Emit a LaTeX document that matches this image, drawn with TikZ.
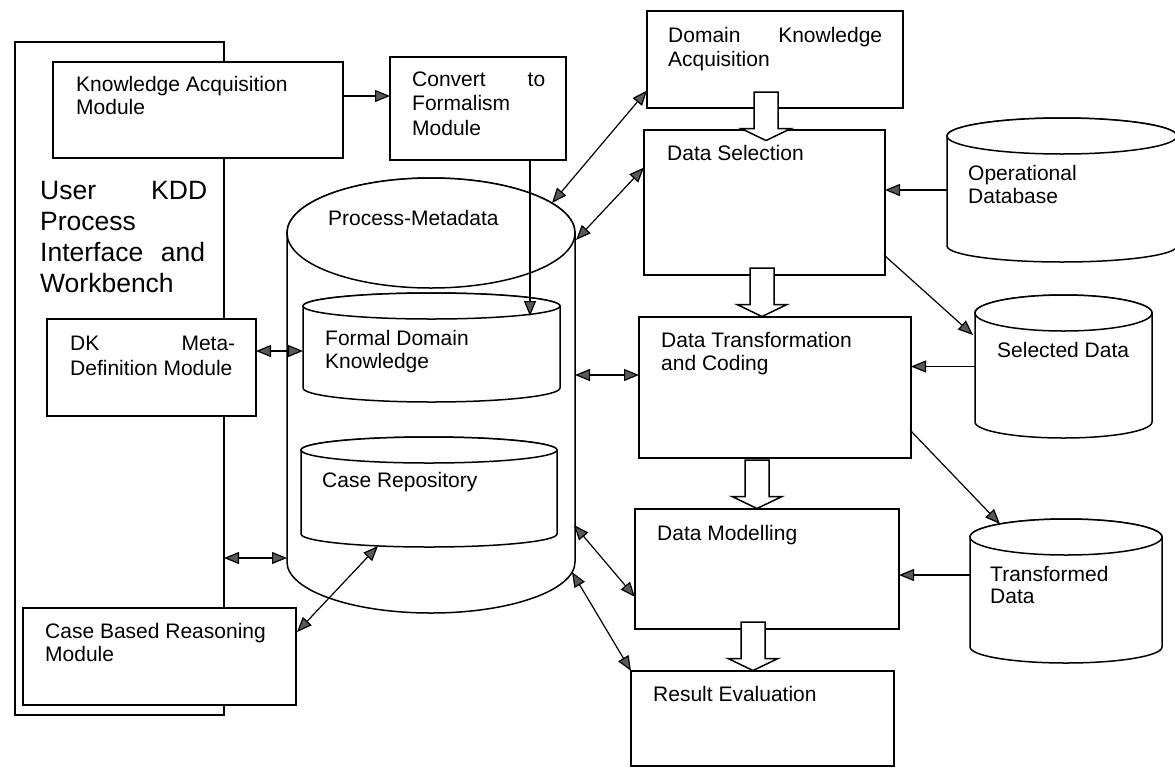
\documentclass[tikz,border=0pt]{standalone}
\usepackage{fontspec}
\setmainfont{Liberation Sans}
\usetikzlibrary{arrows.meta,calc}
\newcommand\mycyl[4]{%
  \draw[cylline] ([yshift=-#3]#1.north west) -- ([yshift=#4]#1.south west)
    arc[start angle=180,end angle=360,x radius=#2,y radius=#4]
    -- ([yshift=-#3]#1.north east)
    arc[start angle=0,end angle=180,x radius=#2,y radius=#3] -- cycle;
  \draw[cylline] ([yshift=-#3]#1.north) ellipse[x radius=#2,y radius=#3];
}
\tikzset{
  box/.style={draw, fill=white, line width=1.5pt, inner sep=0pt, outer sep=0pt},
  ghost/.style={inner sep=0pt, outer sep=0pt},
  cylline/.style={draw, fill=white, line width=1.5pt},
  lbl/.style={anchor=base west, align=left, inner sep=0pt, font=\fontsize{21}{23.5}\selectfont},
  tipx/.tip={Triangle[length=15pt,width=12pt,fill=black!65]},
  conn/.style={line width=1.2pt, -tipx},
  dconn/.style={line width=1.2pt, tipx-tipx},
  blk/.style={draw, fill=white, line width=1.5pt, line join=miter},
  blockarr/.pic={\draw[blk] (-12,0) -- (-12,36.5) -- (-25,36.5) -- (0,48.5) -- (25,36.5) -- (12,36.5) -- (12,0) -- cycle;}
}
\begin{document}
\begin{tikzpicture}[x=1pt,y=-1pt]
\useasboundingbox[fill=white] (0,0) rectangle (1175,769);
% boxes
\node[box, minimum width=209pt, minimum height=673pt] (ui) at (119.5,378.5) {};
\node[box, minimum width=290pt, minimum height=96pt] (ka) at (198,110) {};
\node[box, minimum width=176pt, minimum height=103pt] (conv) at (478,108.5) {};
\node[box, minimum width=256pt, minimum height=97pt] (dka) at (775,59.5) {};
\node[box, minimum width=241pt, minimum height=145pt] (ds) at (764.5,202.5) {};
\node[box, minimum width=272pt, minimum height=141pt] (dtc) at (775,387.5) {};
\node[box, minimum width=264pt, minimum height=120pt] (dm) at (767,569) {};
\node[box, minimum width=263pt, minimum height=95pt] (re) at (762.5,718.5) {};
\node[box, minimum width=209pt, minimum height=97pt] (dk) at (151.5,367.5) {};
\node[box, minimum width=273pt, minimum height=97pt] (cbr) at (159.5,656.5) {};
% cylinders
\node[ghost, minimum width=288pt, minimum height=435pt] (meta) at (431,395.5) {};
\mycyl{meta}{144pt}{55pt}{51pt}
\node[ghost, minimum width=257pt, minimum height=109pt] (fdk) at (431.5,347.5) {};
\mycyl{fdk}{128.5pt}{13pt}{14pt}
\node[ghost, minimum width=256pt, minimum height=110pt] (cr) at (429,492) {};
\mycyl{cr}{128pt}{13pt}{13pt}
\node[ghost, minimum width=230pt, minimum height=144pt] (opdb) at (1062,190) {};
\mycyl{opdb}{115pt}{18pt}{16pt}
\node[ghost, minimum width=177pt, minimum height=143pt] (sd) at (1063.5,366.5) {};
\mycyl{sd}{88.5pt}{18pt}{16pt}
\node[ghost, minimum width=192pt, minimum height=144pt] (td) at (1066,591) {};
\mycyl{td}{96pt}{18pt}{16pt}
% labels (base = baseline of the last line)
\node[lbl, font=\fontsize{26.5}{30.7}\selectfont] (uiT) at (40,292) {\hbox to 167pt{User\hfill KDD}\\Process\\\hbox to 165pt{Interface\hfill and}\\Workbench};
\node[lbl] (kaT) at (76,114.5) {Knowledge Acquisition\\Module};
\node[lbl, font=\fontsize{21}{24.5}\selectfont] (convT) at (412,135) {\hbox to 133pt{Convert\hfill to}\\Formalism\\Module};
\node[lbl, font=\fontsize{21}{24}\selectfont] (dkaT) at (668,66) {\hbox to 214pt{Domain\hfill Knowledge}\\Acquisition};
\node[lbl] (dsT) at (667,160) {Data Selection};
\node[lbl] (metaT) at (328,225) {Process-Metadata};
\node[lbl] (fdkT) at (325,368.5) {Formal Domain\\Knowledge};
\node[lbl] (crT) at (322,487) {Case Repository};
\node[lbl, font=\fontsize{21}{25}\selectfont] (dkT) at (70,375) {\hbox to 165pt{DK\hfill Meta-}\\Definition Module};
\node[lbl, font=\fontsize{21}{23}\selectfont] (cbrT) at (45,661) {Case Based Reasoning\\Module};
\node[lbl, font=\fontsize{21}{23}\selectfont] (dtcT) at (661,370) {Data Transformation\\and Coding};
\node[lbl] (dmT) at (657,540) {Data Modelling};
\node[lbl] (reT) at (653,701) {Result Evaluation};
\node[lbl, font=\fontsize{21}{23}\selectfont] (opdbT) at (968,203) {Operational\\Database};
\node[lbl] (sdT) at (997,357) {Selected Data};
\node[lbl, font=\fontsize{21}{22.5}\selectfont] (tdT) at (990,603.5) {Transformed\\Data};
% block arrows
\pic (b1) at ($(dka.south)+(-9,-16)$) {blockarr};
\pic (b2) at ($(ds.south)+(-2.5,-7)$) {blockarr};
\pic (b3) at ($(dtc.south)+(-18,2)$) {blockarr};
\pic (b4) at ($(dm.south)+(-14,-7)$) {blockarr};
% connectors
\draw[conn] ($(ka.east)+(0,-14)$) -- ($(conv.west)+(0,-12.5)$);
\draw[conn] ($(conv.south)+(52,0)$) -- ($(fdk.north)+(98.5,23)$);
\draw[dconn] ($(dka.west)+(0,31)$) -- ($(meta.north)+(121,25)$);
\draw[dconn] ($(ds.west)+(0,-35)$) -- ($(meta.north)+(145,62)$);
\draw[dconn] ($(dk.east)+(0,-16.5)$) -- ($(fdk.west)+(0,3.5)$);
\draw[dconn] ($(ui.east)+(0,179.5)$) -- ($(meta.west)+(0,162.5)$);
\draw[dconn] ($(cbr.east)+(1,-24.5)$) -- ($(cr.south)+(-51,-1)$);
\draw[dconn] ($(meta.east)+(0,-20.5)$) -- ($(dtc.west)+(0,-12.5)$);
\draw[dconn] ($(meta.east)+(-1,129.5)$) -- ($(dm.west)+(0,28)$);
\draw[dconn] ($(meta.east)+(-3,176.5)$) -- (re.north west);
\draw[conn] (opdb.west) -- ($(ds.east)+(0,-12.5)$);
\draw[conn] ($(ds.east)+(-1,52.5)$) -- ($(sd.west)+(-2,-31.5)$);
\draw[conn] (sd.west) -- ($(dtc.east)+(0,-21)$);
\draw[conn] ($(dtc.east)+(-1,42.5)$) -- ($(td.north)+(-66,5)$);
\draw[conn] ($(td.west)+(0,-16)$) -- ($(dm.east)+(0,6)$);
\end{tikzpicture}
\end{document}
